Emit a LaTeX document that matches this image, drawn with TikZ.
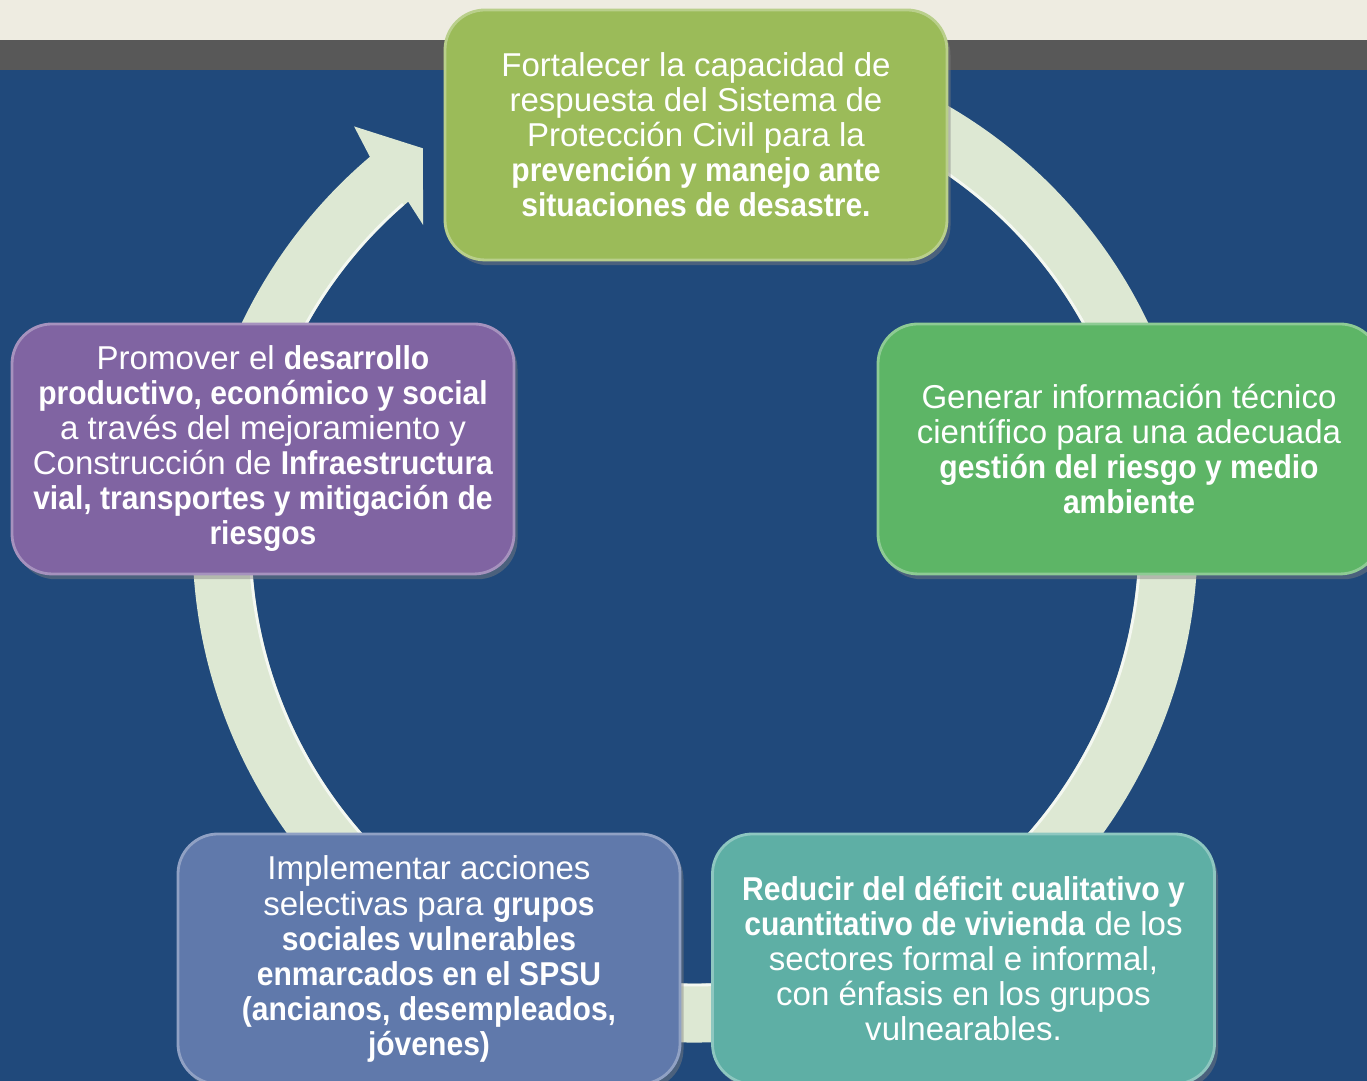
\documentclass[tikz,border=0pt]{standalone}
\usepackage{fontspec}
\setmainfont{Liberation Sans}[BoldFeatures={FakeStretch=0.91}]
\usetikzlibrary{shadows}

\definecolor{cream}{HTML}{EEECE1}
\definecolor{graybar}{HTML}{585858}
\definecolor{bluebg}{HTML}{20497B}
\definecolor{ringgreen}{HTML}{DDE8D3}
\definecolor{olivegreen}{HTML}{9BBB59}
\definecolor{leafgreen}{HTML}{5DB566}
\definecolor{tealgreen}{HTML}{5EAFA5}
\definecolor{slateblue}{HTML}{6079AB}
\definecolor{plum}{HTML}{8064A2}

\begin{document}
\begin{tikzpicture}[thick,
  goal box/.style={rounded corners=0.4cm,fill=#1,draw=#1!70!white,line width=0.8pt,
    minimum width=5.02cm,minimum height=2.5cm,inner sep=1pt,text=white,align=center,
    font=\fontsize{9.4}{9.96}\selectfont,
    drop shadow={shadow xshift=1pt,shadow yshift=-1.5pt,opacity=0.45}},
  ring/.style={draw=ringgreen,line width=0.59cm}]

  \useasboundingbox (0,0) rectangle (13.67,10.81);
  \clip (0,0) rectangle (13.67,10.81);
  \fill[bluebg] (0,0) rectangle (13.67,10.11);
  \fill[graybar] (0,10.11) rectangle (13.67,10.41);
  \fill[cream] (0,10.41) rectangle (13.67,10.81);

  % cycle arrow
  \begin{scope}[shift={(6.95,5.41)}]
    \draw[ring] (62:4.73) arc[start angle=62,end angle=-230,radius=4.73];
    \draw[white,line width=0.8pt,opacity=0.7] (62:4.45) arc[start angle=62,end angle=-229,radius=4.45];
    \fill[ringgreen] (130.3:5.03) -- (129.5:5.36) -- (124.8:4.77) -- (130.8:4.16) -- (130.3:4.43) -- cycle;
  \end{scope}

  \node[goal box=olivegreen] (1) at (6.96,9.46) {Fortalecer la capacidad de\\ respuesta del Sistema de\\ Protección Civil para la\\ \textbf{prevención y manejo ante}\\ \textbf{situaciones de desastre.}};
  \node[goal box=leafgreen] (2) at (11.29,6.32) {Generar información técnico\\ científico para una adecuada\\ \textbf{gestión del riesgo y medio}\\ \textbf{ambiente}};
  \node[goal box=tealgreen] (3) at (9.635,1.22) {\textbf{Reducir del déficit cualitativo y}\\ \textbf{cuantitativo de vivienda} de los\\ sectores formal e informal,\\ con énfasis en los grupos\\ vulnearables.};
  \node[goal box=slateblue] (4) at (4.29,1.22) {Implementar acciones\\ selectivas para \textbf{grupos}\\ \textbf{sociales vulnerables}\\ \textbf{enmarcados en el SPSU}\\ \textbf{(ancianos, desempleados,}\\ \textbf{jóvenes)}};
  \node[goal box=plum] (5) at (2.63,6.32) {Promover el \textbf{desarrollo}\\ \textbf{productivo, económico y social}\\ a través del mejoramiento y\\ Construcción de \textbf{Infraestructura}\\ \textbf{vial, transportes y mitigación de}\\ \textbf{riesgos}};
\end{tikzpicture}
\end{document}
